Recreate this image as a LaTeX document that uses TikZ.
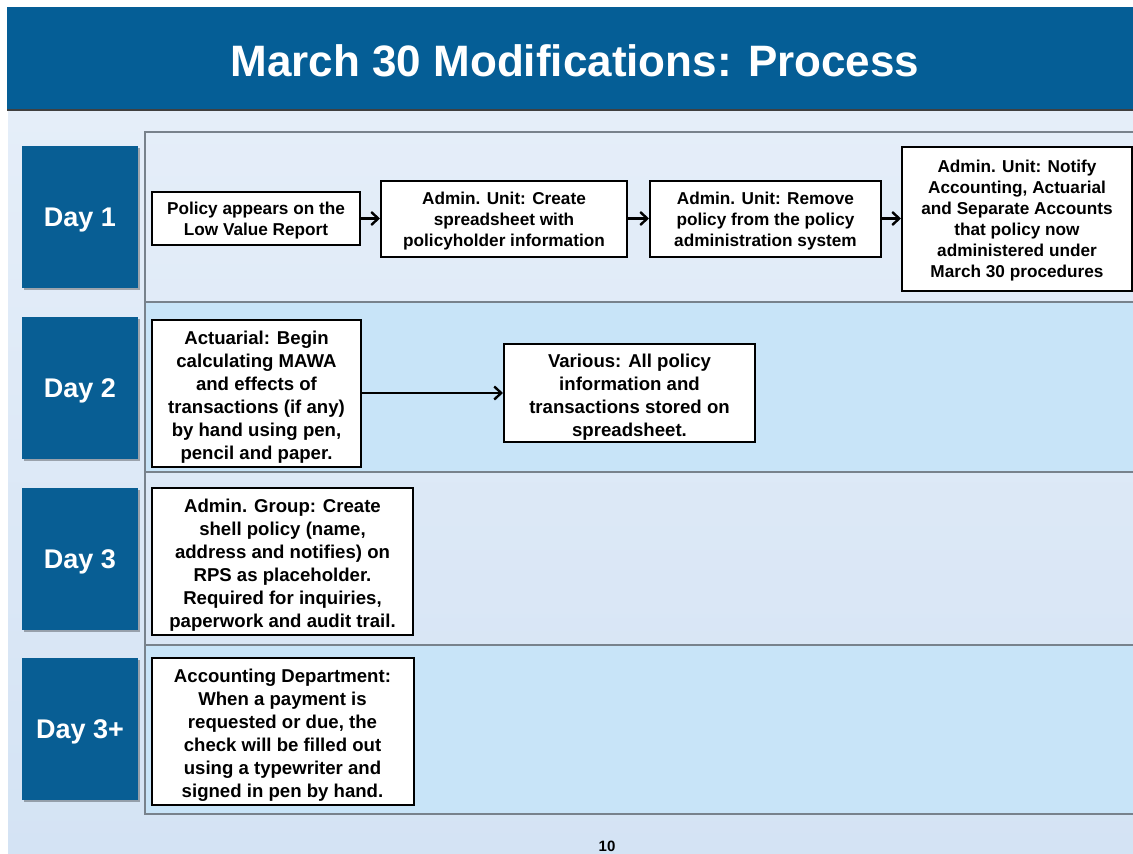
\documentclass[tikz,border=0pt]{standalone}
\usepackage{fontspec}
\setmainfont{Liberation Sans}
\usetikzlibrary{arrows.meta,shadows}
\definecolor{titleblue}{RGB}{5,94,150}
\definecolor{daybl}{RGB}{8,94,148}
\definecolor{bgtop}{RGB}{229,238,249}
\definecolor{bgbot}{RGB}{212,227,244}
\definecolor{rowfill}{RGB}{200,228,248}
\definecolor{rowline}{RGB}{120,130,140}
\newcommand\strutA{\rule{0pt}{17pt}}
\newcommand\strutB{\rule{0pt}{21.5pt}}
\begin{document}
\begin{tikzpicture}[x=1pt,y=-1pt,
  stepbox/.style={draw=black, line width=2pt, fill=white, align=center, inner sep=0pt,
    font=\bfseries\fontsize{17.2}{21}\selectfont},
  bigbox/.style={draw=black, line width=2pt, fill=white, align=center, inner sep=0pt,
    font=\bfseries\fontsize{18.6}{23}\selectfont},
  daybox/.style={fill=daybl, text=white, minimum width=116pt, minimum height=142pt, inner sep=0pt,
    text depth=0pt,
    font=\bfseries\fontsize{27}{32}\selectfont,
    drop shadow={shadow xshift=2pt,shadow yshift=-2pt,fill=black,opacity=0.3}},
  arr/.style={-{Straight Barb[length=7pt,width=13pt]}, line width=2.4pt},
  rowline/.style={draw=rowline, line width=2.5pt}
]
\useasboundingbox (0,0) rectangle (1133,854);
\fill[white] (0,0) rectangle (1133,854);
\shade[top color=bgtop,bottom color=bgbot] (8,110) rectangle (1133,854);
% title band
\fill[titleblue] (7,7) rectangle (1133,110);
\draw[black!75, line width=1.5pt] (7,110) -- (1133,110);
\node[text=white, font=\bfseries\fontsize{44}{50}\selectfont, anchor=base] (title) at (575,76) {March 30 Modifications: Process};
% rows
\fill[rowfill] (145,302) rectangle (1140,472);
\fill[rowfill] (145,645) rectangle (1140,814);
\draw[rowline] (1140,132) -- (145,132) -- (145,814) -- (1140,814);
\draw[rowline] (145,302) -- (1140,302);
\draw[rowline] (145,472) -- (1140,472);
\draw[rowline] (145,645) -- (1140,645);
% day labels
\node[daybox] (d1) at (80,217) {Day 1};
\node[daybox] (d2) at (80,388) {Day 2};
\node[daybox] (d3) at (80,559) {Day 3};
\node[daybox] (d4) at (80,729) {Day 3+};
% day 1
\node[stepbox, minimum width=208pt, minimum height=53pt] (a) at (256,218.5) {\strutA Policy appears on the\\Low Value Report};
\node[stepbox, minimum width=246pt, minimum height=76pt] (b) at (504,218.5) {\strutA Admin. Unit: Create\\spreadsheet with\\policyholder information};
\node[stepbox, minimum width=231pt, minimum height=76pt] (c) at (765.5,218.5) {\strutA Admin. Unit: Remove\\policy from the policy\\administration system};
\node[stepbox, minimum width=230pt, minimum height=144pt] (d) at (1017,218.5) {\strutA Admin. Unit: Notify\\Accounting, Actuarial\\and Separate Accounts\\that policy now\\administered under\\March 30 procedures};
\draw[arr] (a) -- (b);
\draw[arr] (b) -- (c);
\draw[arr] (c) -- (d);
% day 2
\node[bigbox, minimum width=209pt, minimum height=147pt] (e) at (256.5,393) {\strutB Actuarial: Begin\\calculating MAWA\\and effects of\\transactions (if any)\\by hand using pen,\\pencil and paper.};
\node[bigbox, minimum width=251pt, minimum height=98pt] (f) at (629.5,393) {\strutB Various: All policy\\information and\\transactions stored on\\spreadsheet.};
\draw[arr] (e) -- (f);
% day 3
\node[bigbox, minimum width=261pt, minimum height=147pt] (g) at (282.5,561.5) {\strutB Admin. Group: Create\\shell policy (name,\\address and notifies) on\\RPS as placeholder.\\Required for inquiries,\\paperwork and audit trail.};
% day 3+
\node[bigbox, minimum width=262pt, minimum height=147pt] (h) at (282.5,731.5) {\strutB Accounting Department:\\When a payment is\\requested or due, the\\check will be filled out\\using a typewriter and\\signed in pen by hand.};
% page number
\node[font=\bfseries\fontsize{15}{18}\selectfont, anchor=base] (pg) at (607,851) {10};
\end{tikzpicture}
\end{document}
